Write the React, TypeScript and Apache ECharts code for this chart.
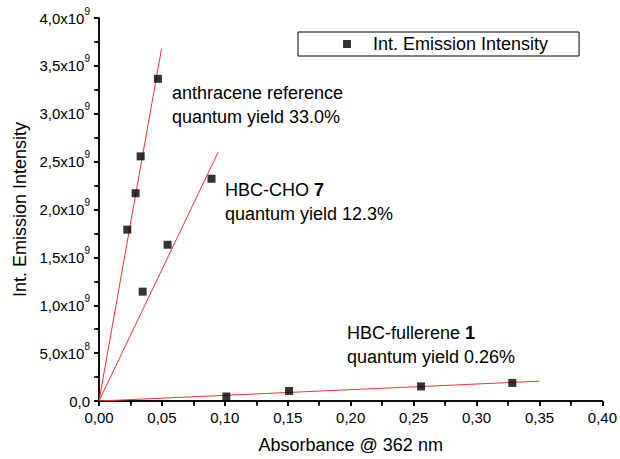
import React, { useEffect, useRef } from 'react';
import * as echarts from 'echarts';

const FONT = '"Liberation Sans", Arial, sans-serif';

// Measured data points (absorbance, integrated emission intensity)
const anthraceneX = [0.0225, 0.0291, 0.0331, 0.0468];
const anthraceneY = [1.79e9, 2.17e9, 2.555e9, 3.365e9];
const choX = [0.0347, 0.0545, 0.0894];
const choY = [1.142e9, 1.632e9, 2.321e9];
const fullereneX = [0.1012, 0.151, 0.2559, 0.3284];
const fullereneY = [0.047e9, 0.105e9, 0.152e9, 0.189e9];

// Linear fits through origin (start and end points)
const anthraceneFit = [[0, 0], [0.0497, 3.68e9]];
const choFit = [[0, 0], [0.0947, 2.6e9]];
const fullereneFit = [[0, 0], [0.35, 2.07e8]];

const seriesName = 'Int. Emission Intensity';
const xTitle = 'Absorbance @ 362 nm';
const yTitle = 'Int. Emission Intensity';

const xMin = 0, xMax = 0.4, xInterval = 0.05;
const yMin = 0, yMax = 4e9, yInterval = 5e8;

const zip = (xs: number[], ys: number[]) => xs.map((x, i) => [x, ys[i]]);

function yLabel(v: number): string {
  if (v === 0) return '{a|0,0}';
  const e = Math.floor(Math.log10(v) + 1e-9);
  const m = (v / Math.pow(10, e)).toFixed(1).replace('.', ',');
  return `{a|${m}x10}{s|${e}}`;
}

export default function App() {
  const ref = useRef<HTMLDivElement>(null);
  useEffect(() => {
    if (!ref.current) return;
    const chart = echarts.init(ref.current, undefined, { renderer: 'svg' });
    const axisLine = { show: true, lineStyle: { color: '#000', width: 1.5 } };
    const textStyleBase = { fontFamily: FONT, color: '#000' };
    const fitLine = (data: number[][]) => ({
      type: 'line',
      data,
      showSymbol: false,
      symbol: 'none',
      lineStyle: { color: '#ff3030', width: 1 },
      z: 2,
      silent: true,
    });
    chart.setOption({
      animation: false,
      backgroundColor: '#fff',
      grid: { left: 99, right: 17, top: 18, bottom: 57.5, containLabel: false },
      legend: {
        data: [{ name: seriesName, icon: 'rect' }],
        left: 298,
        top: 32,
        orient: 'horizontal',
        borderColor: '#000',
        borderWidth: 1,
        padding: [3, 31, 3, 45],
        itemWidth: 8,
        itemHeight: 8,
        itemGap: 0,
        textStyle: { ...textStyleBase, fontSize: 18, padding: [0, 0, 0, 17] },
      },
      xAxis: [
        {
          type: 'value',
          min: xMin,
          max: xMax,
          interval: xInterval,
          position: 'bottom',
          name: xTitle,
          nameLocation: 'middle',
          nameGap: 35,
          nameTextStyle: { ...textStyleBase, fontSize: 18 },
          axisLine,
          axisTick: { show: true, inside: false, length: 5, lineStyle: { color: '#000', width: 1.5 } },
          minorTick: { show: true, splitNumber: 2, length: 3, lineStyle: { color: '#000', width: 1.5 } },
          axisLabel: {
            ...textStyleBase,
            fontSize: 15,
            margin: 9,
            formatter: (v: number) => v.toFixed(2).replace('.', ','),
          },
          splitLine: { show: false },
        },
        {
          type: 'value',
          min: xMin,
          max: xMax,
          interval: xInterval / 2,
          position: 'top',
          axisLine,
          axisTick: { show: true, inside: true, length: 5, lineStyle: { color: '#000', width: 1.5 } },
          axisLabel: { show: false },
          splitLine: { show: false },
        },
      ],
      yAxis: [
        {
          type: 'value',
          min: yMin,
          max: yMax,
          interval: yInterval,
          position: 'left',
          name: yTitle,
          nameLocation: 'middle',
          nameGap: 68,
          nameTextStyle: { ...textStyleBase, fontSize: 18 },
          axisLine,
          axisTick: { show: true, inside: false, length: 5, lineStyle: { color: '#000', width: 1.5 } },
          minorTick: { show: true, splitNumber: 2, length: 3, lineStyle: { color: '#000', width: 1.5 } },
          axisLabel: {
            margin: 9,
            formatter: yLabel,
            rich: {
              a: { ...textStyleBase, fontSize: 15, lineHeight: 24 },
              s: { ...textStyleBase, fontSize: 10, verticalAlign: 'top' },
            },
          },
          splitLine: { show: false },
        },
        {
          type: 'value',
          min: yMin,
          max: yMax,
          interval: yInterval / 2,
          position: 'right',
          axisLine,
          axisTick: { show: true, inside: true, length: 5, lineStyle: { color: '#000', width: 1.5 } },
          axisLabel: { show: false },
          splitLine: { show: false },
        },
      ],
      graphic: [
        {
          type: 'text',
          x: 172,
          y: 81,
          style: {
            text: 'anthracene reference\nquantum yield 33.0%',
            fontFamily: FONT,
            fontSize: 18,
            lineHeight: 24,
            fill: '#000',
          },
        },
        {
          type: 'text',
          x: 225,
          y: 178,
          style: {
            text: '{n|HBC-CHO }{b|7}\n{n|quantum yield 12.3%}',
            fill: '#000',
            rich: {
              n: { fontFamily: FONT, fontSize: 18, lineHeight: 24, fill: '#000' },
              b: { fontFamily: FONT, fontSize: 18, lineHeight: 24, fontWeight: 'bold', fill: '#000' },
            },
          },
        },
        {
          type: 'text',
          x: 347,
          y: 321,
          style: {
            text: '{n|HBC-fullerene }{b|1}\n{n|quantum yield 0.26%}',
            fill: '#000',
            rich: {
              n: { fontFamily: FONT, fontSize: 18, lineHeight: 24, fill: '#000' },
              b: { fontFamily: FONT, fontSize: 18, lineHeight: 24, fontWeight: 'bold', fill: '#000' },
            },
          },
        },
      ],
      series: [
        fitLine(anthraceneFit),
        fitLine(choFit),
        fitLine(fullereneFit),
        {
          name: seriesName,
          type: 'scatter',
          symbol: 'rect',
          symbolSize: 8,
          itemStyle: { color: '#000' },
          data: [
            ...zip(anthraceneX, anthraceneY),
            ...zip(choX, choY),
            ...zip(fullereneX, fullereneY),
          ],
          z: 5,
        },
      ],
    });
    return () => chart.dispose();
  }, []);
  return (
    <div
      ref={ref}
      style={{ position: 'fixed', left: 0, top: 0, width: 620, height: 459, background: '#fff' }}
    />
  );
}
